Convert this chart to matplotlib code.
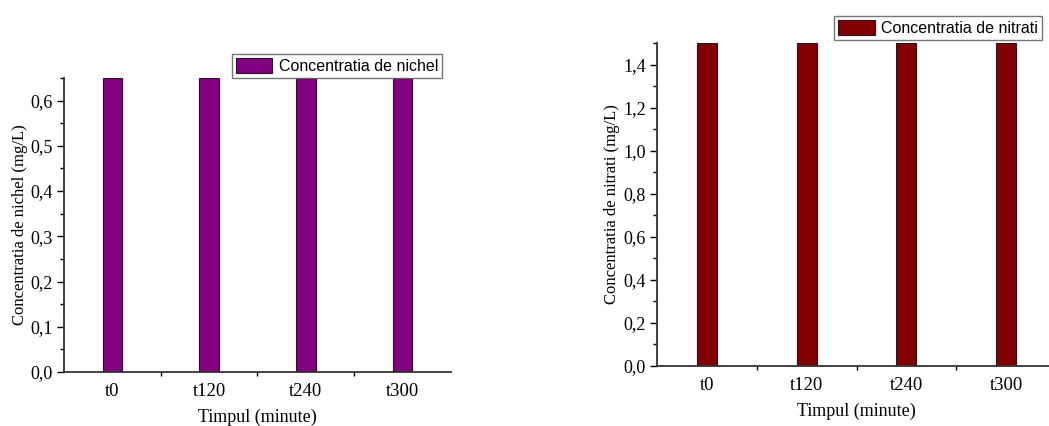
import matplotlib
matplotlib.use("Agg")
import matplotlib.pyplot as plt
from matplotlib.ticker import FuncFormatter, MultipleLocator

plt.rcParams["font.family"] = "Liberation Serif"

times = ["t0", "t120", "t240", "t300"]
nichel = [0.65, 0.65, 0.65, 0.65]
nitrati = [1.5, 1.5, 1.5, 1.5]


def comma(v, pos):
    return f"{v:.1f}".replace(".", ",")


def draw(ax, values, color, ylabel, label, ymax, major, minor, legend_at):
    x = range(len(times))
    ax.bar(x, values, width=0.2, color=color, edgecolor="#2a1020",
           linewidth=0.8, label=label)
    ax.set_xlim(-0.5, len(times) - 0.5)
    ax.set_ylim(0, ymax)
    for side in ("top", "right"):
        ax.spines[side].set_visible(False)
    for side in ("left", "bottom"):
        ax.spines[side].set_linewidth(1.3)
        ax.spines[side].set_color("#333333")

    # category labels sit in the middle, ticks fall on the boundaries
    ax.set_xticks([i + 0.5 for i in range(len(times) - 1)])
    ax.set_xticklabels([])
    ax.set_xticks(list(x), minor=True)
    ax.set_xticklabels(times, minor=True)
    ax.tick_params(axis="x", which="major", length=3, width=1)
    ax.tick_params(axis="x", which="minor", length=0, labelsize=13.5, pad=8)

    ax.yaxis.set_major_locator(MultipleLocator(major))
    ax.yaxis.set_minor_locator(MultipleLocator(minor))
    ax.yaxis.set_major_formatter(FuncFormatter(comma))
    ax.tick_params(axis="y", which="major", length=5, width=1,
                   labelsize=13, pad=3)
    ax.tick_params(axis="y", which="minor", length=3, width=1)

    ax.set_xlabel("Timpul (minute)", fontsize=13, labelpad=6)
    ax.set_ylabel(ylabel, fontsize=12, labelpad=2)

    fig.legend(handles=[ax.patches[0]], labels=[label], loc="upper right",
               bbox_to_anchor=legend_at, frameon=True, fancybox=False,
               edgecolor="#555555", borderpad=0.25, handlelength=2.3,
               handleheight=1.1, handletextpad=0.4, borderaxespad=0,
               prop={"family": "Liberation Sans", "size": 11.5})


fig = plt.figure(figsize=(10.49, 4.26), dpi=100)
ax1 = fig.add_axes([0.0610, 0.1268, 0.3689, 0.6901])
ax2 = fig.add_axes([0.6263, 0.1408, 0.3804, 0.7582])

draw(ax1, nichel, "#800080", "Concentratia de nichel (mg/L)",
     "Concentratia de nichel", 0.65, 0.1, 0.05, (0.4214, 0.8732))
draw(ax2, nitrati, "#800000", "Concentratia de nitrati (mg/L)",
     "Concentratia de nitrati", 1.5, 0.2, 0.1, (0.9933, 0.9624))

fig.savefig("out.png", dpi=100)
